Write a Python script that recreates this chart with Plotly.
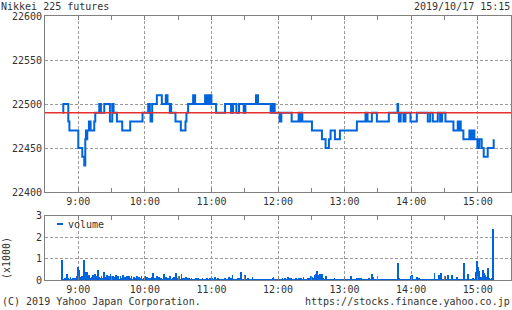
import pandas as pd
import plotly.graph_objects as go

DAY = "2019-10-17"

# ---- price (change points, step line) ----
price_times = [
    "08:46:00", "08:46:30", "08:51:00", "08:52:00", "09:00:00", "09:03:36", "09:05:24", "09:06:18",
    "09:06:54", "09:07:30", "09:08:06", "09:09:36", "09:10:12", "09:10:48", "09:11:06", "09:14:24",
    "09:15:18", "09:18:54", "09:19:30", "09:20:00", "09:20:24", "09:23:24", "09:28:30", "09:30:36",
    "09:31:00", "09:31:24", "09:31:48", "09:34:48", "09:39:36", "09:46:48", "09:57:54", "10:03:00",
    "10:03:36", "10:04:12", "10:04:30", "10:05:06", "10:06:36", "10:10:48", "10:15:18", "10:18:54",
    "10:19:30", "10:20:06", "10:20:24", "10:22:30", "10:23:06", "10:23:42", "10:27:36", "10:32:24",
    "10:36:36", "10:37:30", "10:39:00", "10:43:30", "10:45:18", "10:54:18", "10:55:00", "10:55:36",
    "10:56:12", "10:56:42", "10:57:54", "10:58:30", "10:59:12", "10:59:42", "11:00:00", "11:04:12",
    "11:12:18", "11:17:42", "11:19:30", "11:22:30", "11:24:54", "11:29:06", "11:29:42", "11:30:18",
    "11:30:36", "11:40:12", "11:42:00", "11:53:24", "11:54:00", "11:54:36", "11:55:12", "11:55:30",
    "11:56:24", "11:57:00", "12:01:30", "12:02:06", "12:02:42", "12:03:00", "12:12:18", "12:18:36",
    "12:19:12", "12:19:48", "12:20:24", "12:21:00", "12:21:54", "12:30:36", "12:39:36", "12:42:54",
    "12:45:54", "12:47:24", "12:51:18", "12:55:48", "13:11:06", "13:18:54", "13:19:30", "13:20:06",
    "13:20:42", "13:24:36", "13:29:06", "13:39:54", "13:47:42", "13:48:18", "13:48:54", "13:49:30",
    "13:50:06", "13:50:36", "13:53:06", "13:54:54", "13:59:24", "14:05:06", "14:15:00", "14:17:06",
    "14:19:30", "14:24:00", "14:26:06", "14:26:42", "14:27:18", "14:27:54", "14:30:54", "14:38:06",
    "14:42:00", "14:42:36", "14:43:12", "14:43:48", "14:44:24", "14:44:42", "14:47:06", "14:52:30",
    "14:53:06", "14:53:42", "14:54:18", "14:55:12", "14:55:48", "14:56:24", "14:57:00", "14:59:42",
    "15:00:18", "15:00:54", "15:01:30", "15:03:36", "15:05:24", "15:09:00", "15:14:24",
]
prices = [
    22490, 22500, 22480, 22470, 22450, 22440, 22430, 22460,
    22470, 22460, 22470, 22480, 22470, 22480, 22470, 22480,
    22490, 22500, 22490, 22500, 22490, 22500, 22480, 22500,
    22490, 22500, 22490, 22480, 22470, 22480, 22490, 22500,
    22490, 22500, 22490, 22480, 22500, 22510, 22500, 22510,
    22500, 22510, 22500, 22490, 22500, 22490, 22480, 22470,
    22480, 22490, 22500, 22510, 22500, 22510, 22500, 22510,
    22500, 22510, 22500, 22510, 22500, 22510, 22500, 22490,
    22500, 22490, 22500, 22490, 22500, 22490, 22500, 22490,
    22500, 22510, 22500, 22490, 22500, 22490, 22500, 22490,
    22500, 22490, 22480, 22490, 22480, 22490, 22480, 22490,
    22480, 22490, 22480, 22490, 22480, 22470, 22460, 22450,
    22460, 22470, 22460, 22470, 22480, 22490, 22480, 22490,
    22480, 22490, 22480, 22490, 22500, 22490, 22480, 22490,
    22480, 22490, 22480, 22490, 22480, 22490, 22480, 22490,
    22480, 22490, 22480, 22490, 22480, 22490, 22480, 22470,
    22480, 22470, 22480, 22470, 22480, 22470, 22460, 22470,
    22460, 22470, 22460, 22470, 22460, 22470, 22460, 22450,
    22460, 22450, 22460, 22450, 22440, 22450, 22460,
]
prev_close = 22490

# ---- volume per minute (x1000), from 08:45 ----
vol_start = "08:45"
volumes = [
    0.93, 0.05, 0.04, 0.10, 0.06, 0.28, 0.12, 0.05, 0.15, 0.08,
    0.10, 0.05, 0.12, 0.08, 0.20, 0.62, 0.47, 0.15, 0.20, 0.10,
    0.93, 0.39, 0.20, 0.39, 0.15, 0.25, 0.10, 0.15, 0.25, 0.12,
    0.30, 0.10, 0.20, 0.47, 0.15, 0.10, 0.20, 0.12, 0.39, 0.10,
    0.15, 0.25, 0.10, 0.18, 0.30, 0.12, 0.20, 0.10, 0.15, 0.25,
    0.10, 0.18, 0.08, 0.20, 0.12, 0.25, 0.10, 0.15, 0.08, 0.20,
    0.12, 0.18, 0.10, 0.22, 0.08, 0.15, 0.12, 0.10, 0.20, 0.08,
    0.15, 0.10, 0.18, 0.08, 0.12, 0.20, 0.10, 0.15, 0.08, 0.12,
    0.10, 0.15, 0.34, 0.08, 0.12, 0.10, 0.20, 0.08, 0.15, 0.10,
    0.12, 0.08, 0.30, 0.10, 0.15, 0.08, 0.12, 0.10, 0.18, 0.08,
    0.10, 0.15, 0.08, 0.34, 0.12, 0.10, 0.20, 0.08, 0.30, 0.10,
    0.12, 0.08, 0.15, 0.10, 0.08, 0.12, 0.06, 0.10, 0.08, 0.05,
    0.08, 0.10, 0.05, 0.12, 0.06, 0.08, 0.05, 0.10, 0.06, 0.08,
    0.05, 0.10, 0.06, 0.08, 0.12, 0.05, 0.10, 0.06, 0.15, 0.08,
    0.05, 0.10, 0.06, 0.05, 0.08, 0.05, 0.06, 0.10, 0.05, 0.08,
    0.06, 0.15, 0.05, 0.10, 0.23, 0.06, 0.05, 0.08, 0.05, 0.12,
    0.10, 0.06, 0.39, 0.05, 0.08, 0.23, 0.06, 0.05, 0.10, 0.05,
    0.06, 0.08, 0.15, 0.05, 0.06, 0.05, 0.08, 0.05, 0.06, 0.05,
    0.05, 0.06, 0.05, 0.08, 0.05, 0.06, 0.05, 0.05, 0.08, 0.05,
    0.12, 0.15, 0.08, 0.05, 0.06, 0.05, 0.08, 0.05, 0.06, 0.10,
    0.05, 0.12, 0.08, 0.05, 0.15, 0.10, 0.06, 0.12, 0.05, 0.08,
    0.05, 0.10, 0.06, 0.08, 0.12, 0.05, 0.10, 0.06, 0.15, 0.05,
    0.08, 0.05, 0.10, 0.12, 0.06, 0.20, 0.15, 0.10, 0.25, 0.30,
    0.44, 0.20, 0.25, 0.30, 0.15, 0.28, 0.10, 0.06, 0.20, 0.05,
    0.08, 0.05, 0.06, 0.05, 0.08, 0.05, 0.12, 0.05, 0.06, 0.05,
    0.05, 0.06, 0.05, 0.04, 0.05, 0.06, 0.04, 0.05, 0.03, 0.04,
    0.05, 0.22, 0.04, 0.03, 0.04, 0.03, 0.10, 0.04, 0.12, 0.03,
    0.10, 0.03, 0.04, 0.03, 0.02, 0.04, 0.03, 0.12, 0.03, 0.04,
    0.31, 0.15, 0.03, 0.04, 0.02, 0.03, 0.04, 0.02, 0.03, 0.02,
    0.03, 0.02, 0.03, 0.02, 0.03, 0.02, 0.05, 0.03, 0.02, 0.05,
    0.03, 0.02, 0.05, 0.81, 0.10, 0.03, 0.02, 0.03, 0.02, 0.03,
    0.02, 0.03, 0.02, 0.03, 0.02, 0.20, 0.27, 0.05, 0.03, 0.02,
    0.15, 0.12, 0.12, 0.03, 0.02, 0.03, 0.02, 0.03, 0.02, 0.03,
    0.02, 0.03, 0.02, 0.03, 0.02, 0.03, 0.36, 0.03, 0.02, 0.03,
    0.25, 0.15, 0.36, 0.03, 0.02, 0.05, 0.22, 0.03, 0.25, 0.03,
    0.02, 0.03, 0.25, 0.03, 0.02, 0.03, 0.15, 0.03, 0.02, 0.05,
    0.03, 0.04, 0.05, 0.81, 0.04, 0.05, 0.31, 0.04, 0.05, 0.08,
    0.06, 0.10, 0.08, 0.40, 0.90, 0.62, 0.45, 0.10, 0.15, 0.08,
    0.47, 0.36, 0.25, 0.15, 0.56, 0.10, 0.05, 0.08, 0.10, 2.38,
]

title_text = "Nikkei 225 futures"
stamp_text = "2019/10/17 15:15"
copyright_text = "(C) 2019 Yahoo Japan Corporation."
url_text = "https://stocks.finance.yahoo.co.jp"
vol_label = "(x1000)"
legend_label = "volume"

x_range = [f"{DAY} 08:30", f"{DAY} 15:30"]
price_range = [22400, 22600]
vol_range = [0, 3]

# ---- figure ----
BLUE = "#0064dc"
RED = "#e83030"
GRID = "#9a9a9a"
AXIS = "#808080"
TXT = "#333333"
FONT = "DejaVu Sans Mono"

W, H = 512, 310
L, R, T, B = 45, 511, 16, 280
PW, PH = R - L, B - T


def px(x):
    return (x - L) / PW


def py(y):
    return (B - y) / PH


price_x = pd.to_datetime([f"{DAY} {t}" for t in price_times])
vol_x = pd.date_range(f"{DAY} {vol_start}", periods=len(volumes), freq="min")

fig = go.Figure()
fig.add_trace(go.Scatter(
    x=price_x, y=prices, mode="lines",
    line=dict(color=BLUE, width=2, shape="hv"),
    xaxis="x", yaxis="y", showlegend=False, hoverinfo="skip",
))
fig.add_trace(go.Bar(
    x=vol_x, y=volumes, width=45000,
    marker=dict(color=BLUE, line=dict(width=0)),
    xaxis="x2", yaxis="y2", showlegend=False, hoverinfo="skip",
))

xcommon = dict(
    type="date", range=x_range, tick0=f"{DAY} 09:00", dtick=3600000,
    tickformat="%-H:%M", showgrid=True, gridcolor=GRID, griddash="3px,2px",
    gridwidth=1, showline=True, linecolor=AXIS, linewidth=1, mirror="allticks",
    ticks="inside", ticklen=4, tickcolor=AXIS,
    minor=dict(dtick=1800000, tick0=f"{DAY} 08:30", ticks="inside", ticklen=4,
               tickcolor=AXIS, showgrid=False),
    tickfont=dict(family=FONT, size=10, color=TXT), zeroline=False,
)
ycommon = dict(
    showgrid=True, gridcolor=GRID, griddash="3px,2px", gridwidth=1,
    showline=True, linecolor=AXIS, linewidth=1, mirror=True, ticks="",
    tickformat="d",
    tickfont=dict(family=FONT, size=10, color=TXT), zeroline=False,
)

top_dom = [py(192), 1]
bot_dom = [0, py(215.7)]

fig.update_layout(
    width=W, height=H, autosize=False,
    margin=dict(l=L, r=W - R, t=T, b=H - B, pad=0),
    paper_bgcolor="white", plot_bgcolor="white",
    showlegend=False, bargap=0,
    xaxis=dict(xcommon, anchor="y", domain=[0, 1]),
    yaxis=dict(ycommon, range=price_range, dtick=50, domain=top_dom, anchor="x"),
    xaxis2=dict(xcommon, anchor="y2", domain=[0, 1]),
    yaxis2=dict(ycommon, range=vol_range, dtick=1, domain=bot_dom, anchor="x2"),
    font=dict(family=FONT, size=10, color=TXT),
)

fig.add_shape(type="line", xref="paper", x0=0, x1=1, yref="y", y0=prev_close,
              y1=prev_close, line=dict(color=RED, width=1.5), layer="above")
fig.add_shape(type="line", xref="paper", x0=px(57), x1=px(63), yref="paper",
              y0=py(224), y1=py(224), line=dict(color=BLUE, width=2))

ann = dict(xref="paper", yref="paper", showarrow=False,
           font=dict(family=FONT, size=10, color=TXT), borderpad=0)
fig.add_annotation(ann, text=title_text, x=px(0), y=py(6), xanchor="left", yanchor="middle")
fig.add_annotation(ann, text=stamp_text, x=px(511), y=py(6), xanchor="right", yanchor="middle")
fig.add_annotation(ann, text=copyright_text, x=px(1), y=py(301), xanchor="left", yanchor="middle")
fig.add_annotation(ann, text=url_text, x=px(511), y=py(301), xanchor="right", yanchor="middle")
fig.add_annotation(ann, text=vol_label, x=px(6), y=py(258), xanchor="center", yanchor="middle",
                   textangle=-90)
fig.add_annotation(ann, text=legend_label, x=px(67), y=py(224), xanchor="left", yanchor="middle")

fig.write_html("out.html")
